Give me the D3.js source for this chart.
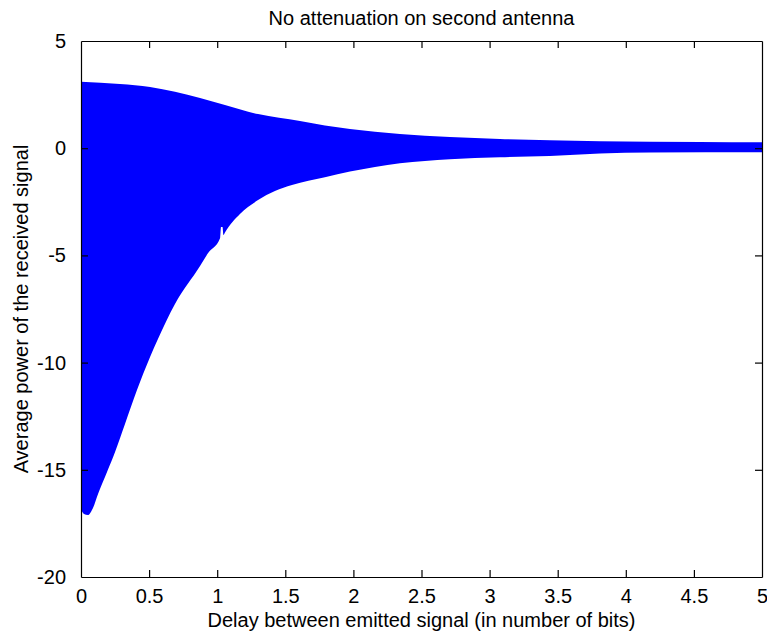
<!DOCTYPE html>
<html>
<head>
<meta charset="utf-8">
<script src="https://cdn.jsdelivr.net/npm/d3@7"></script>
<style>
  body { margin: 0; background: #fff; }
  svg { display: block; }
  text { font-family: "Liberation Sans", Arial, sans-serif; fill: #000; }
</style>
</head>
<body>
<svg id="chart"></svg>
<script>
const width = 767, height = 634;
const marginLeft = 81, marginRight = 5, marginTop = 41, marginBottom = 57;

// upper envelope of the received signal (delay in bits, power)
const upperDelay = [0, 0.286, 0.507, 0.69, 0.874, 1.057, 1.3, 1.608, 1.791, 1.975, 2.342, 2.709, 3.076, 3.443, 3.811, 4.545, 5];
const upperPower = [3.1, 3.0, 2.86, 2.63, 2.34, 2.02, 1.59, 1.27, 1.06, 0.9, 0.66, 0.52, 0.43, 0.37, 0.33, 0.29, 0.28];

// lower envelope (with the small notch just after 1 bit)
const lowerDelay = [0, 0.022, 0.051, 0.088, 0.125, 0.191, 0.25, 0.323, 0.411, 0.507, 0.565, 0.69, 0.874, 0.932, 1.021, 1.028, 1.039, 1.046, 1.057, 1.167, 1.3, 1.424, 1.549, 1.791, 1.975, 2.342, 2.709, 3.076, 3.443, 3.811, 4.178, 5];
const lowerPower = [-16.85, -17.06, -17.11, -16.78, -16.13, -15.1, -14.17, -12.86, -11.28, -9.74, -8.9, -7.27, -5.5, -4.9, -4.2, -3.68, -3.68, -4.05, -3.93, -3.07, -2.42, -2.0, -1.72, -1.35, -1.09, -0.7, -0.51, -0.42, -0.36, -0.25, -0.2, -0.19];

const xTicks = [0, 0.5, 1, 1.5, 2, 2.5, 3, 3.5, 4, 4.5, 5];
const yTicks = [-20, -15, -10, -5, 0, 5];

const titleText = "No attenuation on second antenna";
const xLabelText = "Delay between emitted signal (in number of bits)";
const yLabelText = "Average power of the received signal";

const svg = d3.select('#chart')
  .attr('width', width)
  .attr('height', height);

const x = d3.scaleLinear()
  .domain([0, 5])
  .range([marginLeft, width - marginRight]);
const y = d3.scaleLinear()
  .domain([-20, 5])
  .range([height - marginBottom, marginTop]);

/** SIGNAL BAND: area under upper envelope, masked below lower envelope */
const upperData = upperDelay.map((d, i) => [d, upperPower[i]]);
const lowerData = lowerDelay.map((d, i) => [d, lowerPower[i]]);

const areaBelow = d3.area()
  .curve(d3.curveMonotoneX)
  .x((d) => x(d[0]))
  .y0(height)
  .y1((d) => y(d[1]));

const mask = svg.append('defs').append('mask').attr('id', 'bandMask');
mask.append('rect')
  .attr('x', 0).attr('y', 0)
  .attr('width', width).attr('height', height)
  .attr('fill', '#fff');
mask.append('path')
  .attr('d', areaBelow(lowerData))
  .attr('fill', '#000');

svg.append('path')
  .attr('d', areaBelow.y0(y(-20))(upperData))
  .attr('fill', '#0000ff')
  .attr('mask', 'url(#bandMask)');

/** AXES (matlab box, ticks inside) */
const tickLen = 7;
const fontSize = '20px';
const fmt = (d) => String(d);

const gBottom = svg.append('g')
  .attr('transform', `translate(0,${height - marginBottom})`)
  .call(d3.axisBottom(x).tickValues(xTicks).tickSizeInner(-tickLen).tickSizeOuter(0).tickPadding(12).tickFormat(fmt));
const gTop = svg.append('g')
  .attr('transform', `translate(0,${marginTop})`)
  .call(d3.axisTop(x).tickValues(xTicks).tickSizeInner(-tickLen).tickSizeOuter(0).tickFormat(''));
const gLeft = svg.append('g')
  .attr('transform', `translate(${marginLeft},0)`)
  .call(d3.axisLeft(y).tickValues(yTicks).tickSizeInner(-tickLen).tickSizeOuter(0).tickPadding(15).tickFormat(fmt));
const gRight = svg.append('g')
  .attr('transform', `translate(${width - marginRight},0)`)
  .call(d3.axisRight(y).tickValues(yTicks).tickSizeInner(-tickLen).tickSizeOuter(0).tickFormat(''));

[gBottom, gTop, gLeft, gRight].forEach((g) => {
  g.selectAll('.domain').attr('stroke', '#000').attr('stroke-width', 1.2);
  g.selectAll('.tick line').attr('stroke', '#000').attr('stroke-width', 1.2);
  g.selectAll('.tick text')
    .style('font-size', fontSize)
    .style('font-family', '"Liberation Sans", Arial, sans-serif')
    .attr('fill', '#000');
});

// no tick marks on the box corners
gTop.selectAll('.tick').filter((d) => d === 0 || d === 5).select('line').remove();
gBottom.selectAll('.tick').filter((d) => d === 0 || d === 5).select('line').remove();
gLeft.selectAll('.tick').filter((d) => d === -20 || d === 5).select('line').remove();
gRight.selectAll('.tick').filter((d) => d === -20 || d === 5).select('line').remove();

/** TITLE AND LABELS */
svg.append('text')
  .attr('x', (marginLeft + width - marginRight) / 2)
  .attr('y', 25)
  .attr('text-anchor', 'middle')
  .style('font-size', fontSize)
  .text(titleText);

svg.append('text')
  .attr('x', (marginLeft + width - marginRight) / 2)
  .attr('y', 627)
  .attr('text-anchor', 'middle')
  .style('font-size', fontSize)
  .text(xLabelText);

svg.append('text')
  .attr('transform', `translate(28,${(marginTop + height - marginBottom) / 2}) rotate(-90)`)
  .attr('text-anchor', 'middle')
  .style('font-size', fontSize)
  .text(yLabelText);
</script>
</body>
</html>
